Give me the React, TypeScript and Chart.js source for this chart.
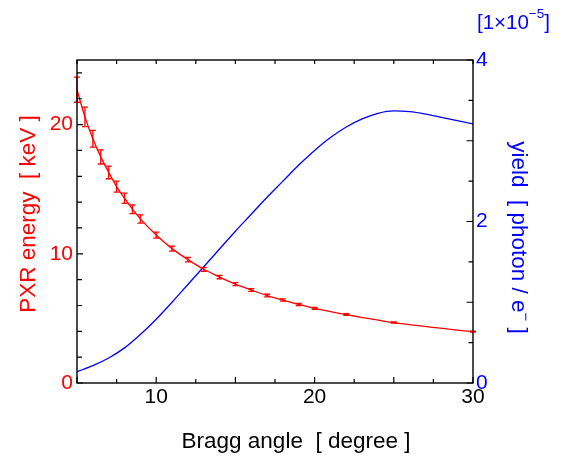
import React, { useEffect, useRef } from "react";
import { Chart, registerables } from "chart.js";
Chart.register(...registerables);

// Measured PXR energy (keV) vs Bragg angle (degree)
const angles = [5, 5.5, 6, 6.5, 7, 7.5, 8, 8.5, 9, 10, 11, 12, 13, 14, 15, 16, 17, 18, 19, 20, 22, 25, 30];
const energy = [22.7, 20.6, 18.9, 17.5, 16.3, 15.2, 14.3, 13.45, 12.7, 11.45, 10.4, 9.55, 8.8, 8.2, 7.65, 7.2, 6.77, 6.42, 6.08, 5.78, 5.3, 4.68, 3.97];
const energyErr = [0.97, 0.75, 0.65, 0.55, 0.49, 0.42, 0.39, 0.34, 0.32, 0.23, 0.2, 0.17, 0.15, 0.13, 0.12, 0.11, 0.1, 0.09, 0.08, 0.07, 0.06, 0.05, 0.04];

// Yield curve [1e-5 photon / e-]
const yieldAngles = [5, 6, 7, 8, 9, 10, 11, 12, 13, 14, 15, 16, 17, 18, 19, 20, 21, 22, 23, 24, 25, 26, 27, 28, 29, 30];
const yieldValues = [0.14, 0.215, 0.31, 0.435, 0.6, 0.79, 1.0, 1.22, 1.44, 1.66, 1.88, 2.09, 2.3, 2.5, 2.7, 2.88, 3.04, 3.17, 3.27, 3.34, 3.37, 3.36, 3.33, 3.29, 3.25, 3.21];

const xTickLabels = [10, 20, 30];
const leftTickLabels = [0, 10, 20];
const rightTickLabels = [0, 2, 4];

const RED = "#ff0000";
const BLUE = "#0000ff";
const FONT = "'Liberation Sans', Arial, Helvetica, sans-serif";

const decor = {
  id: "decor",
  afterDatasetsDraw(chart: any) {
    const ctx = chart.ctx;
    const xs = chart.scales.x;
    const ys = chart.scales.y;
    const y1 = chart.scales.y1;
    const a = chart.chartArea;
    ctx.save();
    // error bars
    ctx.strokeStyle = RED;
    ctx.lineWidth = 1.3;
    angles.forEach((ang, i) => {
      const px = xs.getPixelForValue(ang);
      const t = ys.getPixelForValue(energy[i] + energyErr[i]);
      const b = ys.getPixelForValue(energy[i] - energyErr[i]);
      ctx.beginPath();
      ctx.moveTo(px, t);
      ctx.lineTo(px, b);
      ctx.moveTo(px - 3, t);
      ctx.lineTo(px + 3, t);
      ctx.moveTo(px - 3, b);
      ctx.lineTo(px + 3, b);
      ctx.stroke();
    });
    // frame
    ctx.strokeStyle = "#000";
    ctx.lineWidth = 1.4;
    ctx.strokeRect(a.left, a.top, a.right - a.left, a.bottom - a.top);
    ctx.lineWidth = 1.2;
    ctx.beginPath();
    for (let v = 5; v <= 30.001; v += 2.5) {
      const px = xs.getPixelForValue(v);
      const major = Math.abs(v % 5) < 0.01;
      ctx.moveTo(px, a.bottom);
      ctx.lineTo(px, a.bottom - (major ? 6 : 4));
      ctx.moveTo(px, a.top);
      ctx.lineTo(px, a.top + 4);
    }
    for (let v = 0; v <= 25.001; v += 2) {
      const py = ys.getPixelForValue(v);
      const major = v % 10 === 0;
      ctx.moveTo(a.left, py);
      ctx.lineTo(a.left + (major ? 6 : 5), py);
    }
    for (let v = 0; v <= 4.001; v += 0.5) {
      const py = y1.getPixelForValue(v);
      const major = Math.abs(v % 1) < 0.01;
      ctx.moveTo(a.right, py);
      ctx.lineTo(a.right - (major ? 6.5 : 4.5), py);
    }
    ctx.stroke();

    // titles
    ctx.fillStyle = "#000";
    ctx.font = `22.5px ${FONT}`;
    ctx.textAlign = "center";
    ctx.textBaseline = "alphabetic";
    ctx.fillText("Bragg angle  [ degree ]", 296, 448);

    ctx.save();
    ctx.translate(35, 214);
    ctx.rotate(-Math.PI / 2);
    ctx.fillStyle = RED;
    ctx.fillText("PXR energy  [ keV ]", 0, 0);
    ctx.restore();

    // right title with superscript
    ctx.save();
    ctx.fillStyle = BLUE;
    ctx.translate(512, 0);
    ctx.rotate(Math.PI / 2);
    ctx.textAlign = "left";
    const p1 = "yield  [ photon / e";
    const p3 = " ]";
    ctx.font = `15px ${FONT}`;
    const wSup = ctx.measureText("\u2212").width;
    ctx.font = `22.5px ${FONT}`;
    const w1 = ctx.measureText(p1).width;
    const w3 = ctx.measureText(p3).width;
    const total = w1 + wSup + w3;
    const sx = 237.5 - total / 2;
    ctx.fillText(p1, sx, 0);
    ctx.font = `15px ${FONT}`;
    ctx.fillText("\u2212", sx + w1, -9);
    ctx.font = `22.5px ${FONT}`;
    ctx.fillText(p3, sx + w1 + wSup, 0);
    ctx.restore();

    // [1x10^-5]
    ctx.fillStyle = BLUE;
    ctx.textAlign = "left";
    ctx.font = `20.5px ${FONT}`;
    let x0 = 477;
    const s1 = "[1\u00d710";
    ctx.fillText(s1, x0, 29);
    x0 += ctx.measureText(s1).width;
    ctx.font = `13.5px ${FONT}`;
    const s2 = "\u22125";
    ctx.fillText(s2, x0, 18);
    x0 += ctx.measureText(s2).width;
    ctx.font = `20.5px ${FONT}`;
    ctx.fillText("]", x0, 29);
    ctx.restore();
  },
};

export default function App() {
  const ref = useRef<HTMLCanvasElement | null>(null);
  useEffect(() => {
    document.body.style.margin = "0";
    if (!ref.current) return;
    const chart = new Chart(ref.current, {
      type: "line",
      data: {
        datasets: [
          {
            data: angles.map((x, i) => ({ x, y: energy[i] })),
            borderColor: RED,
            borderWidth: 1.3,
            pointRadius: 0,
            cubicInterpolationMode: "monotone",
            yAxisID: "y",
          },
          {
            data: yieldAngles.map((x, i) => ({ x, y: yieldValues[i] })),
            borderColor: BLUE,
            borderWidth: 1.3,
            pointRadius: 0,
            cubicInterpolationMode: "monotone",
            yAxisID: "y1",
          },
        ],
      },
      options: {
        animation: false,
        responsive: false,
        devicePixelRatio: 1,
        layout: { padding: { top: 60, left: 0, right: 0, bottom: 0 } },
        plugins: { legend: { display: false }, tooltip: { enabled: false } },
        scales: {
          x: {
            type: "linear",
            min: 5,
            max: 30,
            grid: { display: false, drawTicks: false },
            border: { display: false },
            afterBuildTicks: (s: any) => {
              s.ticks = xTickLabels.map((v) => ({ value: v }));
            },
            afterFit: (s: any) => {
              s.height = 74;
            },
            ticks: { color: "#000", font: { family: FONT, size: 21 }, padding: 2, maxRotation: 0, autoSkip: false },
          },
          y: {
            type: "linear",
            position: "left",
            min: 0,
            max: 25,
            grid: { display: false, drawTicks: false },
            border: { display: false },
            afterBuildTicks: (s: any) => {
              s.ticks = leftTickLabels.map((v) => ({ value: v }));
            },
            afterFit: (s: any) => {
              s.width = 77;
            },
            ticks: { color: RED, font: { family: FONT, size: 21 }, padding: 4 },
          },
          y1: {
            type: "linear",
            position: "right",
            min: 0,
            max: 4,
            grid: { display: false, drawTicks: false },
            border: { display: false },
            afterBuildTicks: (s: any) => {
              s.ticks = rightTickLabels.map((v) => ({ value: v }));
            },
            afterFit: (s: any) => {
              s.width = 95;
            },
            ticks: { color: BLUE, font: { family: FONT, size: 21 }, padding: 3 },
          },
        },
      },
      plugins: [decor],
    } as any);
    return () => chart.destroy();
  }, []);
  return (
    <div style={{ position: "absolute", left: 0, top: 0, width: 568, height: 457, background: "#fff" }}>
      <canvas ref={ref} width={568} height={457} style={{ width: 568, height: 457 }} />
    </div>
  );
}
